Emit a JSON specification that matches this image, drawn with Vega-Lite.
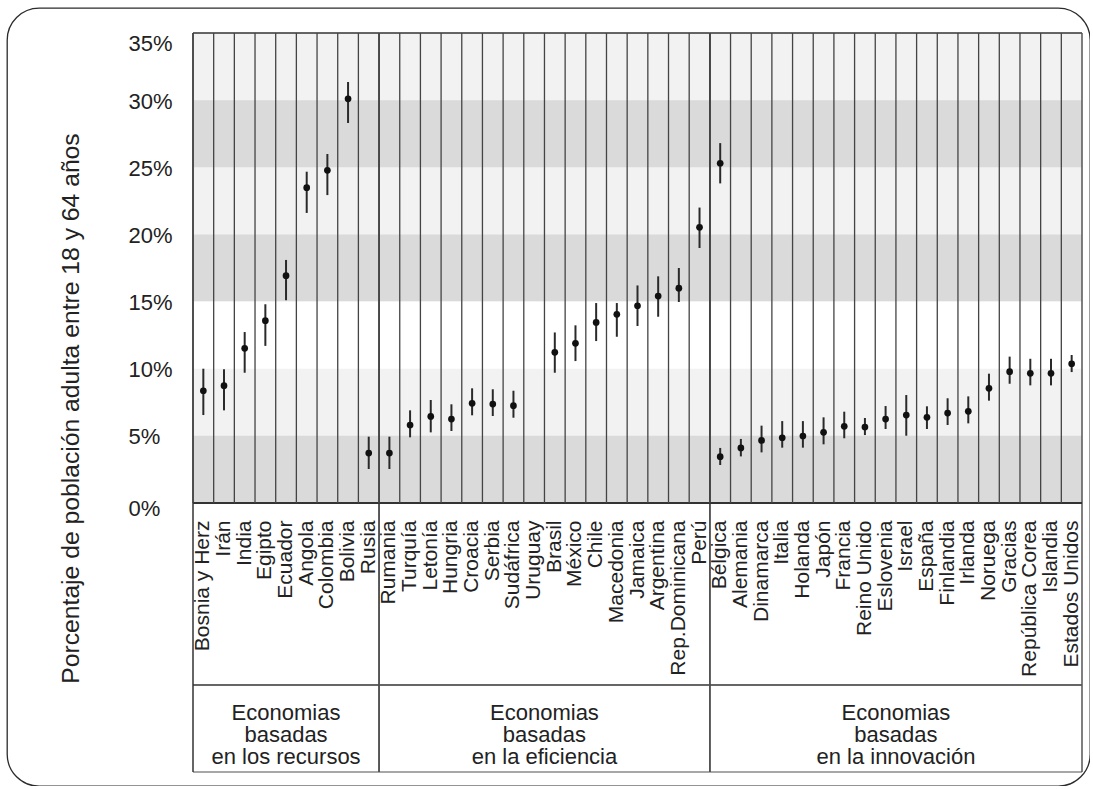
{
  "$schema": "https://vega.github.io/schema/vega-lite/v6.json",
  "width": 1083,
  "height": 778,
  "autosize": {"type": "none"},
  "padding": {"left": 7, "top": 8, "right": 0, "bottom": 0},
  "background": "white",
  "config": {
    "view": {"stroke": "#2b2b2b", "strokeWidth": 1.3, "cornerRadius": 32, "fill": "white"},
    "font": "Liberation Sans",
    "text": {"font": "Liberation Sans"}
  },
  "datasets": {
    "countries": [
      {"country": "Bosnia y Herz", "group": "recursos", "value": 8.36, "lo": 6.55, "hi": 10.0},
      {"country": "Irán", "group": "recursos", "value": 8.74, "lo": 6.9, "hi": 9.96},
      {"country": "India", "group": "recursos", "value": 11.52, "lo": 9.7, "hi": 12.73},
      {"country": "Egipto", "group": "recursos", "value": 13.58, "lo": 11.7, "hi": 14.8},
      {"country": "Ecuador", "group": "recursos", "value": 16.93, "lo": 15.1, "hi": 18.1},
      {"country": "Angola", "group": "recursos", "value": 23.48, "lo": 21.6, "hi": 24.67},
      {"country": "Colombia", "group": "recursos", "value": 24.77, "lo": 22.93, "hi": 25.99},
      {"country": "Bolivia", "group": "recursos", "value": 30.1, "lo": 28.3, "hi": 31.35},
      {"country": "Rusia", "group": "recursos", "value": 3.72, "lo": 2.53, "hi": 4.94},
      {"country": "Rumania", "group": "eficiencia", "value": 3.72, "lo": 2.53, "hi": 4.94},
      {"country": "Turquía", "group": "eficiencia", "value": 5.81, "lo": 4.89, "hi": 6.9},
      {"country": "Letonía", "group": "eficiencia", "value": 6.45, "lo": 5.26, "hi": 7.67},
      {"country": "Hungria", "group": "eficiencia", "value": 6.25, "lo": 5.36, "hi": 7.35},
      {"country": "Croacia", "group": "eficiencia", "value": 7.42, "lo": 6.53, "hi": 8.54},
      {"country": "Serbia", "group": "eficiencia", "value": 7.37, "lo": 6.48, "hi": 8.47},
      {"country": "Sudáfrica", "group": "eficiencia", "value": 7.25, "lo": 6.35, "hi": 8.36},
      {"country": "Uruguay", "group": "eficiencia", "value": null, "lo": null, "hi": null},
      {"country": "Brasil", "group": "eficiencia", "value": 11.22, "lo": 9.7, "hi": 12.7},
      {"country": "México", "group": "eficiencia", "value": 11.89, "lo": 10.57, "hi": 13.23},
      {"country": "Chile", "group": "eficiencia", "value": 13.45, "lo": 12.06, "hi": 14.89},
      {"country": "Macedonia", "group": "eficiencia", "value": 14.05, "lo": 12.38, "hi": 14.89},
      {"country": "Jamaica", "group": "eficiencia", "value": 14.69, "lo": 13.18, "hi": 16.2},
      {"country": "Argentina", "group": "eficiencia", "value": 15.41, "lo": 13.87, "hi": 16.88},
      {"country": "Rep.Dominicana", "group": "eficiencia", "value": 16.0, "lo": 14.97, "hi": 17.5},
      {"country": "Perú", "group": "eficiencia", "value": 20.53, "lo": 18.99, "hi": 22.0},
      {"country": "Bélgica", "group": "innovación", "value": 3.45, "lo": 2.83, "hi": 4.1},
      {"country": "Bélgica", "group": "innovación", "value": 25.3, "lo": 23.8, "hi": 26.8},
      {"country": "Alemania", "group": "innovación", "value": 4.1, "lo": 3.47, "hi": 4.77},
      {"country": "Dinamarca", "group": "innovación", "value": 4.66, "lo": 3.77, "hi": 5.76},
      {"country": "Italia", "group": "innovación", "value": 4.86, "lo": 4.12, "hi": 6.1},
      {"country": "Holanda", "group": "innovación", "value": 4.99, "lo": 4.12, "hi": 6.1},
      {"country": "Japón", "group": "innovación", "value": 5.26, "lo": 4.37, "hi": 6.38},
      {"country": "Francia", "group": "innovación", "value": 5.71, "lo": 4.82, "hi": 6.8},
      {"country": "Reino Unido", "group": "innovación", "value": 5.66, "lo": 5.06, "hi": 6.33},
      {"country": "Eslovenia", "group": "innovación", "value": 6.25, "lo": 5.51, "hi": 7.22},
      {"country": "Israel", "group": "innovación", "value": 6.55, "lo": 5.01, "hi": 8.04},
      {"country": "España", "group": "innovación", "value": 6.38, "lo": 5.51, "hi": 7.2},
      {"country": "Finlandia", "group": "innovación", "value": 6.7, "lo": 5.81, "hi": 7.8},
      {"country": "Irlanda", "group": "innovación", "value": 6.83, "lo": 5.93, "hi": 7.94},
      {"country": "Noruega", "group": "innovación", "value": 8.54, "lo": 7.62, "hi": 9.63},
      {"country": "Gracias", "group": "innovación", "value": 9.78, "lo": 8.88, "hi": 10.9},
      {"country": "República Corea", "group": "innovación", "value": 9.66, "lo": 8.76, "hi": 10.74},
      {"country": "Islandia", "group": "innovación", "value": 9.66, "lo": 8.76, "hi": 10.74},
      {"country": "Estados Unidos", "group": "innovación", "value": 10.37, "lo": 9.75, "hi": 11.02}
    ],
    "groups": [
      {"group": "recursos", "label": "Economias\nbasadas\nen los recursos", "order": 1, "n": 9},
      {"group": "eficiencia", "label": "Economias\nbasadas\nen la eficiencia", "order": 2, "n": 16},
      {"group": "innovación", "label": "Economias\nbasadas\nen la innovación", "order": 3, "n": 18}
    ]
  },
  "resolve": {"scale": {"x": "independent"}},
  "layer": [
    {
      "data": {"name": "groups"},
      "transform": [
        {"stack": "n", "groupby": [], "sort": [{"field": "order", "order": "ascending"}], "as": ["s0", "s1"]},
        {"calculate": "(datum.s0 + datum.s1) / 2", "as": "mid"}
      ],
      "layer": [
        {
          "mark": {"type": "rect", "color": "#f2f2f2"},
          "encoding": {
            "x": {"field": "s0", "type": "quantitative", "axis": null, "scale": {"domain": [0, 43], "range": [186, 1075], "nice": false, "zero": false}},
            "x2": {"field": "s1"},
            "y": {"datum": 0, "type": "quantitative", "scale": {"domain": [0, 35], "range": [495, 25], "nice": false, "zero": false}},
            "y2": {"datum": 35}
          }
        },
        {
          "mark": {"type": "rect", "color": "#dadada"},
          "encoding": {"x": {"field": "s0", "type": "quantitative"}, "x2": {"field": "s1"}, "y": {"datum": 0}, "y2": {"datum": 5}}
        },
        {
          "mark": {"type": "rect", "color": "#dadada"},
          "encoding": {"x": {"field": "s0", "type": "quantitative"}, "x2": {"field": "s1"}, "y": {"datum": 15}, "y2": {"datum": 20}}
        },
        {
          "mark": {"type": "rect", "color": "#dadada"},
          "encoding": {"x": {"field": "s0", "type": "quantitative"}, "x2": {"field": "s1"}, "y": {"datum": 25}, "y2": {"datum": 30}}
        },
        {
          "mark": {"type": "rect", "color": "#ffffff"},
          "encoding": {"x": {"field": "s0", "type": "quantitative"}, "x2": {"field": "s1"}, "y": {"datum": 10}, "y2": {"datum": 15}}
        },
        {
          "mark": {"type": "rule", "color": "#333333", "strokeWidth": 1.5},
          "encoding": {"x": {"field": "s0", "type": "quantitative"}, "x2": {"field": "s1"}, "y": {"datum": 35}}
        },
        {
          "mark": {"type": "rule", "color": "#333333", "strokeWidth": 1.5},
          "encoding": {"x": {"field": "s0", "type": "quantitative"}, "x2": {"field": "s1"}, "y": {"datum": -13.55}}
        },
        {
          "mark": {"type": "rule", "color": "#8a8a8a", "strokeWidth": 1.5},
          "encoding": {"x": {"field": "s0", "type": "quantitative"}, "x2": {"field": "s1"}, "y": {"datum": -20.03}}
        },
        {
          "mark": {"type": "rule", "color": "#333333", "strokeWidth": 1.5},
          "encoding": {"x": {"field": "s0", "type": "quantitative"}, "y": {"datum": -20.03}, "y2": {"datum": 35}}
        },
        {
          "mark": {"type": "rule", "color": "#555555", "strokeWidth": 1.5},
          "encoding": {"x": {"field": "s1", "type": "quantitative"}, "y": {"datum": -20.03}, "y2": {"datum": 35}}
        },
        {
          "mark": {"type": "rule", "color": "#333333", "strokeWidth": 2.2},
          "encoding": {"x": {"field": "s0", "type": "quantitative"}, "x2": {"field": "s1"}, "y": {"datum": 0}}
        },
        {
          "mark": {"type": "text", "lineBreak": "\n", "fontSize": 22, "lineHeight": 22, "align": "center", "baseline": "middle", "color": "#222222"},
          "encoding": {"x": {"field": "mid", "type": "quantitative"}, "y": {"datum": -15.64}, "text": {"field": "label"}}
        }
      ]
    },
    {
      "data": {"name": "countries"},
      "layer": [
        {
          "mark": {"type": "rule", "color": "#444444", "strokeWidth": 1.3},
          "encoding": {
            "x": {"field": "country", "type": "nominal", "bandPosition": 0, "axis": null,
                  "scale": {"domain": ["Bosnia y Herz", "Irán", "India", "Egipto", "Ecuador", "Angola", "Colombia", "Bolivia", "Rusia", "Rumania", "Turquía", "Letonía", "Hungria", "Croacia", "Serbia", "Sudáfrica", "Uruguay", "Brasil", "México", "Chile", "Macedonia", "Jamaica", "Argentina", "Rep.Dominicana", "Perú", "Bélgica", "Alemania", "Dinamarca", "Italia", "Holanda", "Japón", "Francia", "Reino Unido", "Eslovenia", "Israel", "España", "Finlandia", "Irlanda", "Noruega", "Gracias", "República Corea", "Islandia", "Estados Unidos"],
                            "range": [186, 1075], "paddingInner": 0, "paddingOuter": 0}},
            "y": {"datum": 0, "type": "quantitative"},
            "y2": {"datum": 35}
          }
        },
        {
          "mark": {"type": "rule", "color": "#2a2a2a", "strokeWidth": 2},
          "encoding": {
            "x": {"field": "country", "type": "nominal"},
            "y": {"field": "lo", "type": "quantitative"},
            "y2": {"field": "hi"}
          }
        },
        {
          "mark": {"type": "point", "filled": true, "size": 45, "color": "#111111", "opacity": 1},
          "encoding": {
            "x": {"field": "country", "type": "nominal"},
            "y": {"field": "value", "type": "quantitative",
                  "scale": {"domain": [0, 35], "range": [495, 25], "nice": false, "zero": false},
                  "axis": {"values": [0, 5, 10, 15, 20, 25, 30, 35], "labelExpr": "datum.value + '%'", "domain": false, "ticks": false, "tickSize": 0, "grid": false,
                           "labelAlign": "left", "labelBaseline": "middle", "labelPadding": -121, "labelFlush": false, "labelFontSize": 22, "labelColor": "#222222", "labelFont": "Liberation Sans",
                           "labelOffset": {"condition": [{"test": "datum.value == 35", "value": 10}, {"test": "datum.value == 0", "value": 5}], "value": 1},
                           "title": "Porcentaje de población adulta entre 18 y 64 años", "titleFont": "Liberation Sans", "titleFontSize": 24.7, "titleFontWeight": "normal", "titleColor": "#222222",
                           "titleAngle": 270, "titleX": 64, "titleY": 400, "titleAlign": "center", "titleBaseline": "middle"}}
          }
        },
        {
          "transform": [{"aggregate": [], "groupby": ["country"]}],
          "mark": {"type": "text", "angle": 270, "align": "right", "baseline": "middle", "fontSize": 21, "color": "#222222"},
          "encoding": {
            "x": {"field": "country", "type": "nominal"},
            "y": {"datum": -1.3},
            "text": {"field": "country"}
          }
        }
      ]
    }
  ]
}
